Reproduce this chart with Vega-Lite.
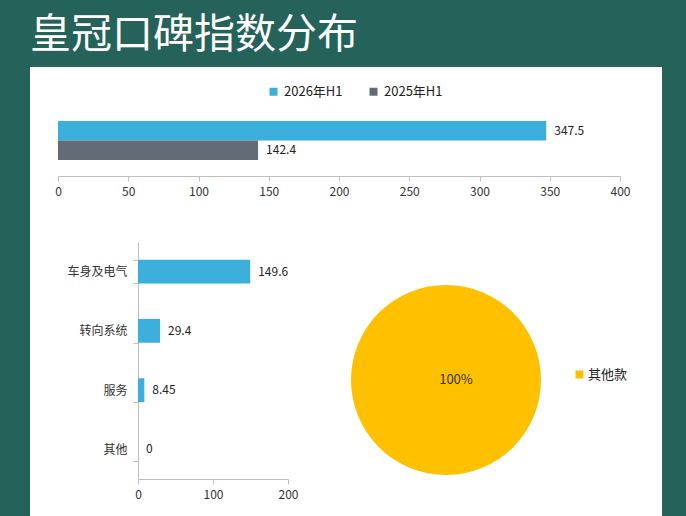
{
  "$schema": "https://vega.github.io/schema/vega-lite/v6.json",
  "width": 632,
  "height": 449,
  "autosize": {"type": "none"},
  "padding": {"left": 30, "top": 67, "right": 24, "bottom": 0},
  "background": "#24625A",
  "view": {"fill": "white", "stroke": null},
  "title": {
    "text": "皇冠口碑指数分布",
    "color": "white",
    "fontSize": 41,
    "fontWeight": "normal",
    "font": "Noto Sans CJK SC",
    "anchor": "start",
    "offset": 4
  },
  "datasets": {
    "overall": [
      {"period": "2026年H1", "index": 347.5},
      {"period": "2025年H1", "index": 142.4}
    ],
    "parts": [
      {"part": "车身及电气", "index": 149.6},
      {"part": "转向系统", "index": 29.4},
      {"part": "服务", "index": 8.45},
      {"part": "其他", "index": 0}
    ],
    "models": [
      {"model": "其他款", "share": 1}
    ]
  },
  "layer": [
    {
      "data": {"name": "overall"},
      "encoding": {
        "y": {
          "field": "period",
          "type": "nominal",
          "sort": ["2026年H1", "2025年H1"],
          "axis": null,
          "scale": {"range": [54, 93], "paddingInner": 0, "paddingOuter": 0}
        },
        "x": {
          "field": "index",
          "type": "quantitative",
          "scale": {"domain": [0, 400], "range": [28, 590], "nice": false},
          "axis": {
            "orient": "bottom",
            "offset": -340,
            "values": [0, 50, 100, 150, 200, 250, 300, 350, 400],
            "grid": false,
            "title": null,
            "labelFlush": false,
            "domainColor": "#BFBFBF",
            "tickColor": "#BFBFBF",
            "tickSize": 5,
            "labelPadding": 5,
            "labelFontSize": 12,
            "labelColor": "#333333"
          }
        }
      },
      "layer": [
        {
          "mark": {"type": "bar"},
          "encoding": {
            "color": {
              "field": "period",
              "type": "nominal",
              "scale": {"domain": ["2026年H1", "2025年H1"], "range": ["#3CAEDB", "#636B76"]},
              "legend": {
                "orient": "none",
                "legendX": 237,
                "legendY": 18,
                "direction": "horizontal",
                "title": null,
                "symbolType": "square",
                "symbolSize": 64,
                "symbolStrokeWidth": 0,
                "labelFontSize": 13,
                "labelColor": "#222222",
                "columnPadding": 24
              }
            }
          }
        },
        {
          "mark": {"type": "text", "align": "left", "baseline": "middle", "dx": 8, "fontSize": 12, "color": "#222222"},
          "encoding": {"text": {"field": "index", "type": "quantitative"}}
        }
      ]
    },
    {
      "data": {"name": "parts"},
      "encoding": {
        "y": {
          "field": "part",
          "type": "nominal",
          "sort": null,
          "scale": {"range": [175, 412], "paddingInner": 0.6, "paddingOuter": 0.3},
          "axis": {
            "orient": "left",
            "offset": -108,
            "tickBand": "extent",
            "title": null,
            "domainColor": "#BFBFBF",
            "tickColor": "#BFBFBF",
            "tickSize": 5,
            "labelPadding": 6,
            "labelFontSize": 12,
            "labelColor": "#333333"
          }
        },
        "x": {
          "field": "index",
          "type": "quantitative",
          "scale": {"domain": [0, 200], "range": [108, 258], "nice": false},
          "axis": {
            "orient": "bottom",
            "offset": -37,
            "values": [0, 100, 200],
            "grid": false,
            "title": null,
            "labelFlush": false,
            "domainColor": "#BFBFBF",
            "tickColor": "#BFBFBF",
            "tickSize": 5,
            "labelPadding": 5,
            "labelFontSize": 12,
            "labelColor": "#333333"
          }
        }
      },
      "layer": [
        {"mark": {"type": "bar", "color": "#3CAEDB"}},
        {
          "mark": {"type": "text", "align": "left", "baseline": "middle", "dx": 8, "fontSize": 12, "color": "#222222"},
          "encoding": {"text": {"field": "index", "type": "quantitative"}}
        }
      ]
    },
    {
      "data": {"name": "models"},
      "encoding": {
        "x": {"value": 416},
        "y": {"value": 313}
      },
      "layer": [
        {
          "mark": {"type": "arc", "outerRadius": 95},
          "encoding": {
            "theta": {"field": "share", "type": "quantitative"},
            "color": {
              "field": "model",
              "type": "nominal",
              "scale": {"range": ["#FFC000"]},
              "legend": {
                "orient": "none",
                "legendX": 543,
                "legendY": 301,
                "title": null,
                "symbolType": "square",
                "symbolSize": 64,
                "symbolStrokeWidth": 0,
                "labelFontSize": 13,
                "labelOffset": 2,
                "labelColor": "#222222"
              }
            }
          }
        },
        {
          "mark": {"type": "text", "align": "center", "baseline": "middle", "dx": 10, "fontSize": 13, "color": "#333333"},
          "encoding": {"text": {"field": "share", "type": "quantitative", "format": ".0%"}}
        }
      ]
    }
  ],
  "resolve": {
    "scale": {"x": "independent", "y": "independent", "color": "independent", "theta": "independent"},
    "axis": {"x": "independent", "y": "independent"},
    "legend": {"color": "independent"}
  },
  "config": {
    "font": "Noto Sans CJK SC",
    "view": {"stroke": null}
  }
}
